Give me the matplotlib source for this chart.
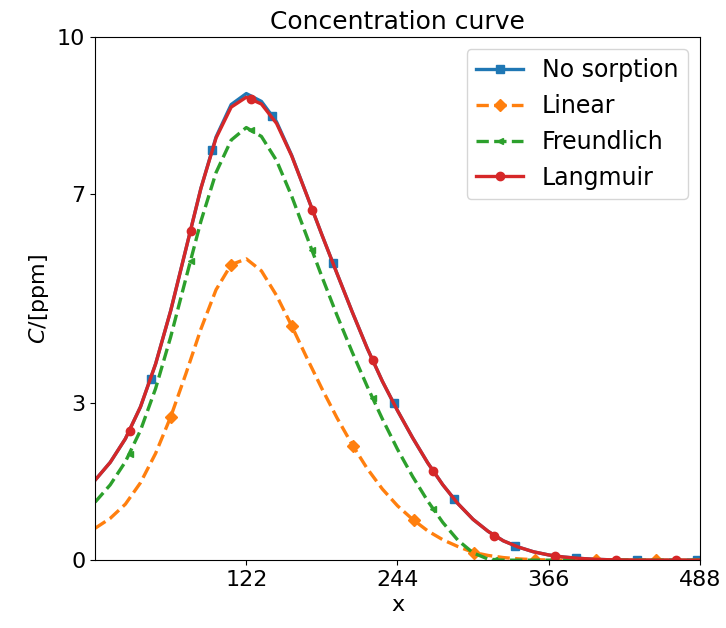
import numpy as np
import matplotlib
matplotlib.use("Agg")
import matplotlib.pyplot as plt
from matplotlib.lines import Line2D

# shared x grid (step 12.2)
x = [round(12.2 * i, 1) for i in range(41)]

no_sorption = [1.53, 1.87, 2.32, 2.93, 3.75, 4.77, 5.94, 7.11, 8.09, 8.71, 8.92, 8.77, 8.38, 7.74,
               6.98, 6.22, 5.48, 4.75, 4.05, 3.42, 2.86, 2.34, 1.86, 1.44, 1.08, 0.78, 0.55,
               0.37, 0.25, 0.16, 0.10, 0.06, 0.035, 0.018, 0.008, 0.003, 0.001, 0.0, 0.0, 0.0, 0.0]
langmuir = [1.53, 1.87, 2.32, 2.93, 3.75, 4.77, 5.94, 7.11, 8.07, 8.66, 8.85, 8.72, 8.35, 7.73,
            6.98, 6.22, 5.48, 4.75, 4.05, 3.42, 2.86, 2.34, 1.86, 1.44, 1.08, 0.78, 0.55,
            0.37, 0.25, 0.16, 0.10, 0.06, 0.035, 0.018, 0.008, 0.003, 0.001, 0.0, 0.0, 0.0, 0.0]
freundlich = [1.11, 1.44, 1.88, 2.48, 3.28, 4.27, 5.38, 6.48, 7.41, 8.03, 8.27, 8.10, 7.64, 6.96,
              6.19, 5.42, 4.68, 3.98, 3.32, 2.70, 2.12, 1.60, 1.13, 0.72, 0.38, 0.14, 0.02,
              0.0, 0.0, 0.0, 0.0, 0.0, 0.0, 0.0, 0.0, 0.0, 0.0, 0.0, 0.0, 0.0, 0.0]
linear = [0.61, 0.80, 1.07, 1.48, 2.04, 2.74, 3.56, 4.42, 5.17, 5.65, 5.76, 5.53, 5.06, 4.48,
          3.87, 3.28, 2.72, 2.21, 1.75, 1.36, 1.04, 0.78, 0.56, 0.39, 0.26, 0.15, 0.09,
          0.05, 0.025, 0.01, 0.004, 0.0, 0.0, 0.0, 0.0, 0.0, 0.0, 0.0, 0.0, 0.0, 0.0]

# marker positions / values
ns_mx = [45, 94, 143, 192, 241, 290, 339, 388, 437, 486]
ns_my = [3.47, 7.85, 8.5, 5.69, 3.0, 1.16, 0.27, 0.04, 0.0, 0.0]
lg_mx = [28, 77, 126, 175, 224, 273, 322, 371, 420, 469]
lg_my = [2.47, 6.3, 8.82, 6.7, 3.82, 1.7, 0.47, 0.08, 0.0, 0.0]
fr_mx = [28, 77, 126, 175, 224, 273, 322, 371, 420, 469]
fr_my = [2.03, 5.72, 8.22, 5.93, 3.1, 0.97, 0.01, 0.0, 0.0, 0.0]
li_mx = [61, 110, 159, 208, 257, 306, 355, 404, 453]
li_my = [2.74, 5.65, 4.47, 2.19, 0.77, 0.145, 0.01, 0.0, 0.0]

labels = ["No sorption", "Linear", "Freundlich", "Langmuir"]
xticks = [122, 244, 366, 488]
yticks = [0, 3, 7, 10]

fig = plt.figure(figsize=(7.26, 6.28), dpi=100)
ax = fig.add_axes([0.131, 0.108, 0.833, 0.833])

series = [
    (no_sorption, ns_mx, ns_my, "#1f77b4", "-", "s", 6),
    (linear, li_mx, li_my, "#ff7f0e", "--", "D", 6),
    (freundlich, fr_mx, fr_my, "#2ca02c", "--", "<", 5),
    (langmuir, lg_mx, lg_my, "#d62728", "-", "o", 6),
]
handles = []
for (yv, mx, my, c, ls, mk, ms), lab in zip(series, labels):
    ax.plot(x, yv, color=c, ls=ls, lw=2.4)
    ax.plot(mx, my, ls="none", marker=mk, ms=ms, color=c)
    handles.append(Line2D([], [], color=c, ls=ls, lw=2.4, marker=mk, ms=ms, label=lab))

ax.set_xlim(0, 488)
ax.set_ylim(0, 10)
ax.set_xticks(xticks)
ax.set_yticks(yticks)
ax.tick_params(labelsize=16)
ax.set_xlabel("x", fontsize=16)
ax.set_ylabel(r"$C$/[ppm]", fontsize=16)
ax.set_title("Concentration curve", fontsize=18)
ax.legend(handles=handles, loc="upper right", fontsize=17)

fig.savefig("out.png", dpi=100)
